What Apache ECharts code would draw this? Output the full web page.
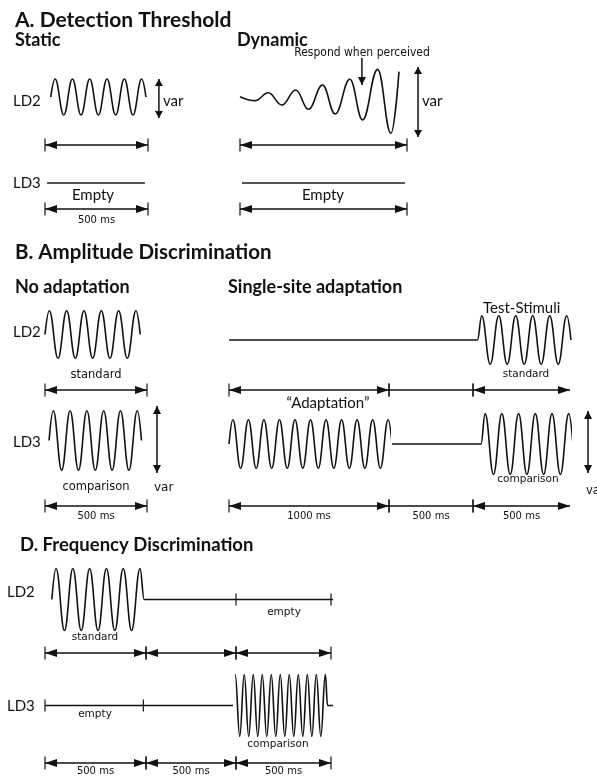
<!DOCTYPE html>
<html><head><meta charset="utf-8">
<script src="https://cdn.jsdelivr.net/npm/echarts@6/dist/echarts.min.js"></script>
<style>html,body{margin:0;padding:0;background:#fff}#c{width:597px;height:777px}</style>
</head><body><div id="c"></div>
<script>
// ================= DATA =================
const panelTitles = ['A. Detection Threshold', 'B. Amplitude Discrimination', 'D. Frequency Discrimination'];
const conditionTitles = ['Static', 'Dynamic', 'No adaptation', 'Single-site adaptation'];
const channels = ['LD2', 'LD3'];
const stimulusNames = ['Empty', 'standard', 'comparison', 'var', 'Test-Stimuli', '\u201CAdaptation\u201D', 'Respond when perceived', 'empty'];

// interval durations (ms) and their tick labels
const durStatic = [500];
const durDynamic = [500];
const durNoAdapt = [500];
const durSingle = [1000, 500, 500];
const durFreq = [500, 500, 500];
const durLabelsStatic = ['500 ms'];
const durLabelsNoAdapt = ['500 ms'];
const durLabelsSingle = ['1000 ms', '500 ms', '500 ms'];
const durLabelsFreq = ['500 ms', '500 ms', '500 ms'];

// successive extrema of each vibration (standard amplitude = 1); first / last = baseline
const waveStandard = [0, 1, -1, 1, -1, 1, -1, 1, -1, 1, -1, 1, 0];
const waveComparisonB = [0, 1.25, -1.25, 1.25, -1.25, 1.25, -1.25, 1.25, -1.25, 1.25, -1.25, 1.25, 0];
const waveAdaptation = [0, 1, -1, 1, -1, 1, -1, 1, -1, 1, -1, 1, -1, 1, -1, 1, -1, 1, -1, 1, -1, 1, 0];
const waveComparisonD = [0, 1, -1, 1, -1, 1, -1, 1, -1, 1, -1, 1, -1, 1, -1, 1, -1, 1, -1, 1, -1, 1, 0];
// dynamic (ramping) stimulus: time (ms) and amplitude of successive extrema
const dynamicTime = [0, 45, 85, 125, 167, 205, 247, 285, 329, 367, 412, 452, 476];
const dynamicAmp = [0.1, -0.12, 0.32, -0.36, 0.47, -0.6, 0.75, -0.86, 1.07, -1.19, 1.62, -1.93, 1.49];

// onset / offset of each trace (ms, inside its interval)
const tStaticLD2 = [28, 490];
const tStaticLD3 = [10, 485];
const tDynamicLD3 = [6, 494];
const tNoAdaptLD2 = [0, 467];
const tNoAdaptLD3 = [20, 473];
const tSingleTest = [23, 505];
const tSingleAdapt = [0, 1019];
const tSingleGap = [18, 500];
const tSingleComp = [41, 515];
const tFreqStd = [34, 491];
const tFreqLD2End = 521;
const tFreqGap = 483;
const tFreqComp = [-16, 482];
const tFreqLD3End = 547;
const tFreqTicksLD2 = [0, 500];
const tFreqTicksLD3 = [0, 487];

// ================= LAYOUT / STYLE =================
const INK = '#111', GRAY = '#555';
const LAY = {
  static:  {xs: [45, 148], rows: [97, 145, 183, 209], ppu: 18},
  dynamic: {xs: [240, 407], rows: [98.5, 145, 183, 209], ppu: 18},
  noAdapt: {xs: [45, 147], rows: [334.5, 390, 440.5, 506], ppu: 23.8},
  single:  {xs: [229, 389, 473, 570], rows: [340, 390, 444, 506], ppu: 24.3},
  freq:    {xs: [45, 146, 236, 331], rows: [599.5, 653, 705.5, 763], ppu: 31}
};
const FONT_S = 'bold 18px Lato', FONT_L = '15px Lato';
const sm = s => s + 'px "DejaVu Sans"';

const grids = [], xAxes = [], yAxes = [], series = [];
function addGrid(x0, x1, xmax, cy, halfPx, yHalf) {
  const i = grids.length;
  grids.push({left: x0, top: cy - halfPx, width: x1 - x0, height: 2 * halfPx, show: false, containLabel: false, outerBoundsMode: 'none'});
  xAxes.push({gridIndex: i, type: 'value', min: 0, max: xmax, show: false});
  yAxes.push({gridIndex: i, type: 'value', min: -yHalf, max: yHalf, show: false});
  return i;
}
function buildPanel(lay, durs) {
  return durs.map((d, s) => {
    const x0 = lay.xs[s], x1 = lay.xs[s + 1];
    return {
      ld2: addGrid(x0, x1, d, lay.rows[0], 2 * lay.ppu, 2),
      a1: addGrid(x0, x1, d, lay.rows[1], 10, 1),
      ld3: addGrid(x0, x1, d, lay.rows[2], 2 * lay.ppu, 2),
      a2: addGrid(x0, x1, d, lay.rows[3], 10, 1)
    };
  });
}
function wave(amps, t0, t1) {
  const k = amps.length - 2, h = (t1 - t0) / k;
  return amps.map((a, i) => [i === 0 ? t0 : (i === amps.length - 1 ? t1 : t0 + (i - 0.5) * h), a]);
}
function flat(t0, t1) { return [[t0, 0], [t1, 0]]; }
function line(gi, pts, color, width) {
  series.push({type: 'line', xAxisIndex: gi, yAxisIndex: gi, data: pts, showSymbol: false, symbol: 'none',
    smooth: 0.42, smoothMonotone: 'x', clip: false, silent: true, animation: false,
    lineStyle: {color: color || INK, width: width || 1.6}});
}
function tri(x, y, dx, dy, L, W) {
  const bx = x + dx * L, by = y + dy * L;
  return {type: 'polygon', shape: {points: [[x, y], [bx - dy * W, by - dx * W], [bx + dy * W, by + dx * W]]}, style: {fill: INK}};
}
function hArrow(gi, item, label, dy) {
  series.push({type: 'custom', coordinateSystem: 'cartesian2d', xAxisIndex: gi, yAxisIndex: gi, silent: true, animation: false,
    data: [item],
    renderItem: (params, api) => {
      const a = api.coord([api.value(0), 0]), b = api.coord([api.value(1), 0]), y = a[1];
      const ch = [{type: 'line', shape: {x1: a[0], y1: y, x2: b[0], y2: y}, style: {stroke: INK, lineWidth: 1.5}}];
      if (api.value(2)) ch.push(tri(a[0], y, 1, 0, 12, 4));
      if (api.value(3)) ch.push(tri(b[0], y, -1, 0, 12, 4));
      if (api.value(4)) ch.push({type: 'line', shape: {x1: a[0], y1: y - 6.5, x2: a[0], y2: y + 6.5}, style: {stroke: INK, lineWidth: 1.2}});
      if (api.value(5)) ch.push({type: 'line', shape: {x1: b[0], y1: y - 6.5, x2: b[0], y2: y + 6.5}, style: {stroke: INK, lineWidth: 1.2}});
      if (label) ch.push({type: 'text', style: {text: label, x: (a[0] + b[0]) / 2, y: y + dy, align: 'center', verticalAlign: 'middle', font: sm(10), fill: INK}});
      return {type: 'group', children: ch};
    }});
}
function vArrow(gi, item, L) {
  series.push({type: 'custom', coordinateSystem: 'cartesian2d', xAxisIndex: gi, yAxisIndex: gi, silent: true, animation: false,
    data: [item],
    renderItem: (params, api) => {
      const a = api.coord([api.value(0), api.value(1)]), b = api.coord([api.value(0), api.value(2)]);
      const ch = [{type: 'line', shape: {x1: a[0], y1: a[1], x2: b[0], y2: b[1]}, style: {stroke: INK, lineWidth: 1.5}}];
      if (api.value(3)) ch.push(tri(a[0], a[1], 0, 1, L, 4));
      if (api.value(4)) ch.push(tri(b[0], b[1], 0, -1, L, 4));
      return {type: 'group', children: ch};
    }});
}
function ticks(gi, ts) {
  series.push({type: 'custom', coordinateSystem: 'cartesian2d', xAxisIndex: gi, yAxisIndex: gi, silent: true, animation: false,
    data: ts.map(t => [t, 0]),
    renderItem: (params, api) => {
      const p = api.coord([api.value(0), 0]);
      return {type: 'line', shape: {x1: p[0], y1: p[1] - 6, x2: p[0], y2: p[1] + 6}, style: {stroke: INK, lineWidth: 1.2}};
    }});
}

// ---------- A. static ----------
const PS = buildPanel(LAY.static, durStatic);
line(PS[0].ld2, wave(waveStandard, tStaticLD2[0], tStaticLD2[1]));
line(PS[0].ld3, flat(tStaticLD3[0], tStaticLD3[1]), GRAY, 2);
hArrow(PS[0].a1, [0, durStatic[0], 1, 1, 1, 1], null, 11);
hArrow(PS[0].a2, [0, durStatic[0], 1, 1, 1, 1], durLabelsStatic[0], 11);
vArrow(PS[0].ld2, [553, 1.0, -1.17, 1, 1], 7);
// ---------- A. dynamic ----------
const PD = buildPanel(LAY.dynamic, durDynamic);
line(PD[0].ld2, dynamicTime.map((t, i) => [t, dynamicAmp[i]]));
line(PD[0].ld3, flat(tDynamicLD3[0], tDynamicLD3[1]), GRAY, 2);
hArrow(PD[0].a1, [0, durDynamic[0], 1, 1, 1, 1], null, 11);
hArrow(PD[0].a2, [0, durDynamic[0], 1, 1, 1, 1], null, 11);
vArrow(PD[0].ld2, [533, 1.75, -2.14, 1, 1], 7);
vArrow(PD[0].ld2, [365, 2.25, 0.75, 0, 1], 8);
// ---------- B. no adaptation ----------
const PN = buildPanel(LAY.noAdapt, durNoAdapt);
line(PN[0].ld2, wave(waveStandard, tNoAdaptLD2[0], tNoAdaptLD2[1]));
line(PN[0].ld3, wave(waveComparisonB, tNoAdaptLD3[0], tNoAdaptLD3[1]));
hArrow(PN[0].a1, [0, durNoAdapt[0], 1, 1, 1, 1], null, 10);
hArrow(PN[0].a2, [0, durNoAdapt[0], 1, 1, 1, 1], durLabelsNoAdapt[0], 10);
vArrow(PN[0].ld3, [549, 1.45, -1.37, 1, 1], 8);
// ---------- B. single-site adaptation ----------
const PA = buildPanel(LAY.single, durSingle);
line(PA[0].ld2, flat(0, durSingle[0]));
line(PA[1].ld2, flat(0, durSingle[1]));
line(PA[2].ld2, [[0, 0]].concat(wave(waveStandard, tSingleTest[0], tSingleTest[1])));
line(PA[0].ld3, wave(waveAdaptation, tSingleAdapt[0], tSingleAdapt[1]));
line(PA[1].ld3, flat(tSingleGap[0], tSingleGap[1]));
line(PA[2].ld3, [[0, 0]].concat(wave(waveComparisonB, tSingleComp[0], tSingleComp[1])));
const singleHeads = [[1, 1, 1, 1], [0, 0, 1, 1], [1, 1, 1, 0]];
durSingle.forEach((d, s) => {
  hArrow(PA[s].a1, [0, d].concat(singleHeads[s]), null, 10.5);
  hArrow(PA[s].a2, [0, d].concat(singleHeads[s]), durLabelsSingle[s], 10.5);
});
vArrow(PA[2].ld3, [593, 1.36, -1.19, 1, 1], 8);
// ---------- D. frequency discrimination ----------
const PF = buildPanel(LAY.freq, durFreq);
line(PF[0].ld2, wave(waveStandard, tFreqStd[0], tFreqStd[1]).concat([[durFreq[0], 0]]));
line(PF[1].ld2, flat(0, durFreq[1]));
line(PF[2].ld2, flat(0, tFreqLD2End));
ticks(PF[2].ld2, tFreqTicksLD2);
line(PF[0].ld3, flat(0, durFreq[0]));
ticks(PF[0].ld3, tFreqTicksLD3);
line(PF[1].ld3, flat(0, tFreqGap));
line(PF[2].ld3, wave(waveComparisonD, tFreqComp[0], tFreqComp[1]).concat([[tFreqLD3End, 0]]));
durFreq.forEach((d, s) => {
  hArrow(PF[s].a1, [0, d, 1, 1, 1, 1], null, 8.5);
  hArrow(PF[s].a2, [0, d, 1, 1, 1, 1], durLabelsFreq[s], 8.5);
});

// ---------- texts ----------
function txt(text, x, y, font, align) {
  return {type: 'text', x: x, y: y, silent: true,
    style: {text: text, font: font, fill: INK, align: align || 'left', textAlign: align || 'left', verticalAlign: 'middle', textVerticalAlign: 'middle'}};
}
const texts = [
  txt(panelTitles[0], 15, 20, 'bold 21px Lato'),
  txt(conditionTitles[0], 15, 40, FONT_S),
  txt(conditionTitles[1], 237, 40, FONT_S),
  txt(panelTitles[1], 15, 252, 'bold 20.5px Lato'),
  txt(conditionTitles[2], 15, 287.5, FONT_S),
  txt(conditionTitles[3], 228, 287.5, FONT_S),
  txt(panelTitles[2], 20, 545.5, 'bold 18.5px Lato'),
  txt(channels[0], 13, 101, FONT_L), txt(channels[1], 13, 183, FONT_L),
  txt(channels[0], 13, 332, FONT_L), txt(channels[1], 13, 442, FONT_L),
  txt(channels[0], 7, 592.5, FONT_L), txt(channels[1], 7, 706, FONT_L),
  txt(stimulusNames[0], 93, 195, FONT_L, 'center'),
  txt(stimulusNames[0], 323, 195, FONT_L, 'center'),
  txt(stimulusNames[3], 163, 101, FONT_L),
  txt(stimulusNames[3], 422, 101, FONT_L),
  txt(stimulusNames[6], 362, 52.5, '12px "DejaVu Sans Condensed"', 'center'),
  txt(stimulusNames[1], 96, 375, sm(11.5), 'center'),
  txt(stimulusNames[2], 96, 487.5, sm(11.5), 'center'),
  txt(stimulusNames[3], 154, 487.5, sm(12)),
  txt(stimulusNames[4], 483, 308, FONT_L),
  txt(stimulusNames[1], 526, 374, sm(10.5), 'center'),
  txt(stimulusNames[5], 328, 403, FONT_L, 'center'),
  txt(stimulusNames[2], 528, 479, sm(10.5), 'center'),
  txt(stimulusNames[3], 586, 491, sm(11.5)),
  txt(stimulusNames[1], 95, 637, sm(10.5), 'center'),
  txt(stimulusNames[7], 284, 612, sm(10.5), 'center'),
  txt(stimulusNames[7], 95, 714, sm(10.5), 'center'),
  txt(stimulusNames[2], 278, 744, sm(10.5), 'center')
];

const chart = echarts.init(document.getElementById('c'), null, {renderer: 'canvas'});
chart.setOption({
  animation: false,
  backgroundColor: '#fff',
  grid: grids, xAxis: xAxes, yAxis: yAxes,
  series: series,
  graphic: {elements: texts}
});
</script></body></html>
